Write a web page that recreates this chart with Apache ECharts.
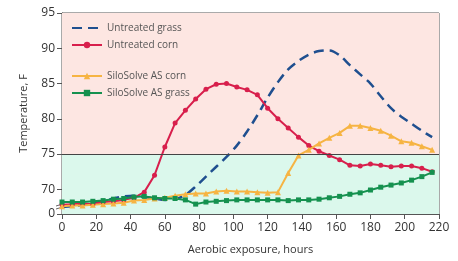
<!DOCTYPE html>
<html>
<head>
<meta charset="utf-8">
<script src="https://cdn.jsdelivr.net/npm/echarts@6/dist/echarts.min.js"></script>
<style>
  html, body { margin: 0; padding: 0; background: #fff; }
  #chart { width: 458px; height: 261px; }
</style>
</head>
<body>
<div id="chart"></div>
<script>
// readings every 6 hours
const hours = [0, 6, 12, 18, 24, 30, 36, 42, 48, 54, 60, 66, 72, 78, 84, 90, 96, 102, 108, 114, 120, 126, 132, 138, 144, 150, 156, 162, 168, 174, 180, 186, 192, 198, 204, 210, 216]
const untreatedGrass = [67.5, 67.6, 67.8, 68.0, 68.3, 68.7, 69.0, 69.1, 68.9, 68.7, 68.5, 68.6, 69.2, 70.4, 71.8, 73.2, 74.6, 76.2, 78.2, 80.5, 83.0, 85.2, 87.0, 88.2, 89.1, 89.6, 89.7, 89.0, 87.6, 86.3, 85.0, 83.2, 81.5, 80.3, 79.3, 78.3, 77.4]
const untreatedCorn = [67.8, 67.9, 68.0, 67.9, 68.2, 68.3, 68.5, 68.8, 69.6, 72.0, 76.0, 79.4, 81.2, 82.8, 84.2, 84.9, 85.0, 84.5, 84.1, 83.4, 81.5, 80.0, 78.7, 77.4, 76.2, 75.4, 74.8, 74.2, 73.4, 73.3, 73.6, 73.4, 73.2, 73.3, 73.3, 73.0, 72.5]
const siloCorn = [67.6, 67.7, 67.7, 67.8, 67.9, 68.0, 68.1, 68.4, 68.5, 68.7, 68.8, 69.1, 69.3, 69.4, 69.4, 69.7, 69.8, 69.7, 69.7, 69.6, 69.5, 69.6, 72.3, 74.8, 75.6, 76.5, 77.3, 78.0, 79.0, 79.0, 78.7, 78.3, 77.6, 76.8, 76.6, 76.1, 75.6]
const siloGrass = [68.2, 68.2, 68.2, 68.3, 68.4, 68.6, 68.7, 68.9, 69.0, 68.8, 68.7, 68.7, 68.5, 67.9, 68.2, 68.3, 68.4, 68.5, 68.5, 68.5, 68.5, 68.5, 68.4, 68.5, 68.5, 68.6, 68.8, 69.0, 69.3, 69.5, 69.9, 70.3, 70.6, 70.9, 71.3, 71.8, 72.4]
// broken y axis: the bottom of the scale is labelled 0
const yBottom = 66.5
const yTicks = [66.5, 70, 75, 80, 85, 90, 95]

const pairs = vals => vals.map((v, i) => [hours[i], v])

const chart = echarts.init(document.getElementById('chart'))
const font = '"Open Sans", "Noto Sans", sans-serif'
const legendText = { fontSize: 10, color: '#555', fontFamily: font }

chart.setOption({
  animation: false,
  textStyle: { fontFamily: font },
  grid: {
    left: 62, right: 19, top: 13, bottom: 47,
    show: true,
    borderColor: '#555',
    borderWidth: 1,
  },
  legend: [
    {
      data: [
        { name: 'Untreated grass', itemStyle: { opacity: 0 } },
        'Untreated corn',
      ],
      orient: 'vertical',
      left: 66, top: 18,
      itemWidth: 30, itemHeight: 8, itemGap: 7,
      textStyle: legendText,
    },
    {
      data: ['SiloSolve AS corn', 'SiloSolve AS grass'],
      orient: 'vertical',
      left: 66, top: 66,
      itemWidth: 30, itemHeight: 8, itemGap: 7,
      textStyle: legendText,
    },
  ],
  xAxis: {
    type: 'value',
    min: 0,
    max: 220,
    interval: 20,
    name: 'Aerobic exposure, hours',
    nameLocation: 'middle',
    nameGap: 30,
    nameTextStyle: { fontSize: 11, color: '#333' },
    axisLine: { lineStyle: { color: '#555' } },
    axisTick: { length: 5, lineStyle: { color: '#555' } },
    axisLabel: { fontSize: 12, color: '#333', margin: 8 },
    splitLine: { show: false },
  },
  yAxis: {
    type: 'value',
    min: yBottom,
    max: 95,
    name: 'Temperature, F',
    nameLocation: 'middle',
    nameGap: 33,
    nameTextStyle: { fontSize: 11, color: '#333' },
    axisLine: { show: true, lineStyle: { color: '#555' } },
    axisTick: { show: true, length: 5, customValues: yTicks, lineStyle: { color: '#555' } },
    axisLabel: {
      fontSize: 12, color: '#333', margin: 7,
      customValues: yTicks,
      formatter: v => (v === yBottom ? '0' : String(v)),
    },
    splitLine: { show: false },
  },
  graphic: [
    { type: 'line', shape: { x1: 56, y1: 206, x2: 66, y2: 203 }, style: { stroke: '#666', lineWidth: 1 } },
    { type: 'line', shape: { x1: 56, y1: 209, x2: 66, y2: 206 }, style: { stroke: '#666', lineWidth: 1 } },
  ],
  series: [
    {
      name: 'Untreated grass',
      type: 'line',
      data: pairs(untreatedGrass),
      symbol: 'none',
      smooth: 0.3,
      z: 3,
      lineStyle: { color: '#1f4f8f', width: 2.5, type: [10, 6] },
      itemStyle: { color: '#1f4f8f' },
      markArea: {
        silent: true,
        data: [
          [{ yAxis: 75, itemStyle: { color: '#fde6e2' } }, { yAxis: 95 }],
          [{ yAxis: yBottom, itemStyle: { color: '#dbf8ec' } }, { yAxis: 75 }],
        ],
      },
      markLine: {
        silent: true,
        symbol: 'none',
        label: { show: false },
        lineStyle: { color: '#444', type: 'solid', width: 1 },
        data: [{ yAxis: 75 }],
      },
    },
    {
      name: 'Untreated corn',
      type: 'line',
      data: pairs(untreatedCorn),
      symbol: 'circle',
      symbolSize: 5,
      z: 4,
      lineStyle: { color: '#d81f4c', width: 2 },
      itemStyle: { color: '#d81f4c' },
    },
    {
      name: 'SiloSolve AS corn',
      type: 'line',
      data: pairs(siloCorn),
      symbol: 'triangle',
      symbolSize: 6,
      z: 4,
      lineStyle: { color: '#f6b443', width: 2 },
      itemStyle: { color: '#f6b443' },
    },
    {
      name: 'SiloSolve AS grass',
      type: 'line',
      data: pairs(siloGrass),
      symbol: 'rect',
      symbolSize: 5,
      z: 4,
      lineStyle: { color: '#15914f', width: 2 },
      itemStyle: { color: '#15914f' },
    },
  ],
})
</script>
</body>
</html>
